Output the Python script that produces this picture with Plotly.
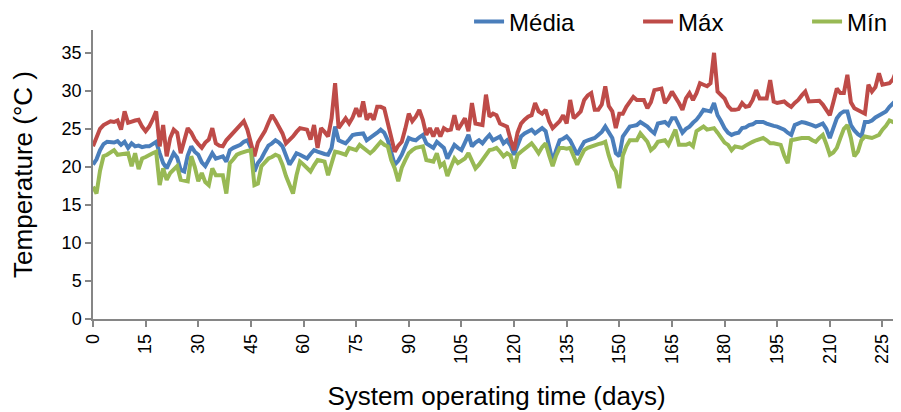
import plotly.graph_objects as go

media = [
    20.3, 21.0, 22.2, 23.0, 23.3, 23.3, 23.2, 23.4, 22.9, 23.3,
    22.5, 23.1, 22.7, 22.8, 22.6, 22.7, 22.7, 23.0, 23.3, 21.8,
    20.5, 19.8, 20.9, 21.8, 21.2, 19.6, 19.4, 21.5, 22.7, 22.0,
    21.6, 20.6, 20.1, 20.9, 21.8, 21.1, 21.2, 21.4, 20.7, 22.2,
    22.5, 22.7, 22.9, 23.3, 23.5, 22.5, 19.4, 20.5, 21.1, 22.0,
    22.8, 23.1, 23.5, 23.2, 22.7, 21.5, 20.3, 21.0, 21.8, 21.6,
    21.3, 21.1, 21.7, 22.2, 22.0, 21.8, 21.7, 21.6, 22.5, 25.3,
    23.5, 23.3, 23.1, 23.6, 24.2, 24.3, 24.4, 24.4, 23.5, 23.8,
    24.2, 24.5, 24.9, 24.5, 23.5, 22.0, 20.3, 20.8, 21.6, 22.7,
    23.8, 23.6, 23.5, 23.9, 24.2, 23.1, 22.8, 22.5, 23.3, 22.9,
    22.5, 21.1, 22.0, 22.9, 22.5, 22.2, 23.2, 24.2, 22.7, 23.2,
    23.5, 23.1, 23.7, 24.2, 23.5, 23.8, 24.0, 23.1, 23.5, 22.8,
    21.6, 22.8, 24.0, 24.4, 24.7, 24.9, 24.4, 24.8, 25.1, 24.7,
    22.5, 20.7, 22.2, 23.5, 23.7, 24.0, 23.5, 22.5, 21.6, 22.5,
    23.3, 23.5, 23.7, 23.8, 24.2, 24.6, 25.3, 24.5, 23.8, 21.8,
    21.4, 24.0, 24.7, 25.3, 25.4, 25.5, 25.9, 25.6, 25.3, 24.8,
    24.4, 25.7, 25.8, 25.9, 25.5, 26.4, 26.4, 25.3, 24.5, 25.0,
    25.3, 25.8, 26.2, 26.8, 27.5, 27.4, 27.3, 28.4, 26.8, 26.0,
    25.1, 24.5, 24.2, 24.4, 24.5, 25.1, 25.2, 25.5, 25.6, 25.9,
    25.9, 25.9, 25.7, 25.5, 25.4, 25.3, 25.1, 24.9, 24.5, 24.2,
    25.5, 25.7, 25.9, 25.8, 25.7, 25.5, 25.3, 25.5, 25.7, 25.0,
    23.8, 25.1, 26.4, 27.0, 27.3, 27.3, 25.5, 24.8, 24.3, 24.0,
    25.9, 25.9, 26.1, 26.5, 26.8, 27.0, 27.3, 27.9, 28.4, 28.8,
    26.6,
]

maximo = [
    22.7, 23.8, 25.0, 25.5, 25.8, 26.0, 25.9, 26.1, 24.9, 27.3,
    25.8, 26.0, 26.1, 26.2, 25.3, 24.7, 25.3, 26.2, 27.3, 22.7,
    25.5, 21.4, 23.8, 24.9, 24.5, 21.8, 23.5, 25.1, 24.5, 23.6,
    23.0, 22.5, 23.2, 23.6, 25.1, 23.1, 22.8, 22.7, 23.5, 24.0,
    24.6, 25.1, 25.5, 26.0, 24.9, 23.0, 21.4, 23.2, 24.0, 24.7,
    25.8, 26.8, 26.1, 25.2, 24.4, 23.1, 23.5, 24.0, 24.6, 25.1,
    25.0, 24.9, 23.6, 25.5, 22.5, 25.1, 24.6, 24.0, 26.4, 31.0,
    25.1, 25.8, 26.4, 25.7, 26.5, 27.7, 26.6, 28.6, 26.2, 27.0,
    26.2, 27.9, 27.9, 27.7, 25.7, 23.8, 22.0, 22.8, 23.3, 25.0,
    27.0, 26.0, 26.6, 27.5, 26.2, 24.2, 25.1, 24.0, 25.1, 24.0,
    25.1, 24.8, 24.9, 26.8, 24.9, 25.6, 26.4, 24.7, 28.4, 25.7,
    25.6, 25.5, 29.5, 26.6, 27.0, 26.8, 25.7, 25.5, 25.3, 23.6,
    22.2, 24.5, 25.7, 26.2, 26.6, 26.8, 28.4, 27.3, 27.0, 27.5,
    26.0, 25.1, 25.5, 26.0, 26.8, 25.7, 28.8, 26.4, 26.8, 27.3,
    28.8, 29.4, 29.7, 27.5, 27.5, 28.2, 30.6, 28.0, 27.3, 25.1,
    27.0, 27.0, 27.9, 28.6, 29.2, 28.8, 28.8, 28.8, 27.7, 28.5,
    30.1, 30.2, 30.3, 28.4, 29.0, 29.9, 29.2, 28.4, 27.5, 29.0,
    29.7, 28.8, 29.7, 31.0, 30.8, 30.6, 31.0, 35.0, 29.9, 29.5,
    29.0, 28.0, 27.5, 27.5, 27.6, 28.4, 27.9, 28.0, 28.8, 30.1,
    29.0, 29.0, 29.0, 31.4, 28.6, 28.4, 28.5, 28.6, 28.2, 27.9,
    28.4, 28.8, 29.4, 29.9, 28.6, 28.6, 28.6, 28.7, 28.2, 27.5,
    26.8, 28.5, 30.3, 29.7, 29.7, 32.1, 28.5, 27.7, 27.5, 27.3,
    27.0, 30.8, 29.9, 30.5, 32.3, 30.8, 30.9, 31.0, 31.5, 32.7,
    30.3,
]

minimo = [
    17.4, 16.5, 19.5, 21.4, 21.6, 21.9, 22.2, 21.6, 21.7, 21.8,
    21.8, 20.1, 21.8, 19.7, 21.1, 21.3, 21.6, 21.8, 22.0, 17.6,
    19.8, 18.3, 19.2, 19.6, 20.1, 18.3, 18.2, 18.1, 21.4, 20.0,
    18.1, 19.2, 18.0, 17.6, 19.8, 18.9, 18.9, 18.9, 16.5, 20.5,
    21.0, 21.6, 21.8, 22.0, 22.1, 22.2, 17.6, 17.8, 20.1, 20.6,
    21.1, 21.3, 21.6, 21.4, 20.3, 18.8, 17.5, 16.5, 18.9, 20.7,
    20.3, 19.8, 19.4, 20.2, 20.9, 20.8, 20.7, 18.9, 20.5, 22.0,
    21.9, 21.8, 21.6, 22.5, 22.3, 22.2, 22.9, 22.5, 22.2, 21.8,
    22.2, 22.7, 23.3, 22.9, 22.7, 20.9, 19.8, 18.1, 19.9, 20.9,
    21.8, 22.2, 22.5, 22.6, 22.7, 20.9, 20.8, 20.7, 21.8, 20.1,
    20.5, 18.8, 20.0, 21.1, 20.5, 20.8, 21.1, 21.8, 20.9, 19.8,
    20.3, 20.9, 21.5, 22.2, 22.3, 22.5, 22.0, 21.4, 21.8, 21.5,
    19.8, 21.6, 22.0, 22.4, 22.7, 23.1, 22.5, 21.8, 22.6, 23.1,
    21.5, 20.1, 21.5, 22.5, 22.5, 22.4, 22.5, 21.5, 20.3, 21.3,
    22.2, 22.5, 22.7, 22.9, 23.0, 23.1, 23.3, 21.5, 20.1, 19.4,
    17.2, 21.5, 22.7, 23.5, 23.5, 23.5, 24.4, 23.9, 23.3, 22.2,
    22.6, 23.3, 23.4, 23.5, 22.9, 23.9, 24.9, 22.9, 22.9, 22.9,
    23.1, 22.7, 24.7, 25.0, 25.3, 24.9, 25.0, 25.1, 24.5, 23.8,
    23.2, 22.9, 22.2, 22.7, 22.6, 22.5, 22.8, 23.1, 23.3, 23.5,
    23.7, 23.8, 23.5, 23.1, 23.1, 23.0, 22.9, 21.5, 20.5, 23.5,
    23.6, 23.8, 23.8, 23.8, 23.8, 23.5, 23.3, 23.8, 24.2, 23.0,
    21.6, 21.9, 22.5, 23.8, 25.0, 25.5, 23.8, 21.4, 22.0, 23.5,
    24.0, 23.9, 23.8, 24.0, 24.2, 24.9, 25.4, 26.1, 25.9, 25.7,
    22.9,
]

days_media = list(range(len(media)))
days_max = list(range(len(maximo)))
days_min = list(range(len(minimo)))

x_ticks = list(range(0, 226, 15))
y_ticks = list(range(0, 36, 5))

series_names = ["Média", "Máx", "Mín"]
colors = ["#4A7EBB", "#BE4B48", "#98B954"]

fig = go.Figure()
for name, xs, ys, c in zip(series_names,
                           [days_media, days_max, days_min],
                           [media, maximo, minimo], colors):
    fig.add_trace(go.Scatter(x=xs, y=ys, mode="lines", name=name,
                             line=dict(color=c, width=4)))

axis_color = "#868686"
font_family = "Liberation Sans, Arial, sans-serif"

fig.update_layout(
    width=893, height=404,
    margin=dict(l=85, r=1, t=22, b=93, autoexpand=False),
    paper_bgcolor="white", plot_bgcolor="white",
    font=dict(family=font_family, color="black"),
    legend=dict(orientation="h", x=0.466, y=1.028, xanchor="left", yanchor="middle",
                font=dict(size=24, family=font_family), entrywidth=124,
                entrywidthmode="pixels", bgcolor="rgba(0,0,0,0)"),
)
fig.update_xaxes(
    range=[0, 230], tickmode="array", tickvals=x_ticks, ticktext=[str(v) for v in x_ticks],
    tickangle=-90, ticks="outside", ticklen=6, tickwidth=1.5, tickcolor=axis_color,
    showline=True, linecolor=axis_color, linewidth=1.5, showgrid=False, zeroline=False,
    tickfont=dict(size=18, family=font_family, color="black"),
    title=dict(text="System operating time (days)", standoff=24,
               font=dict(size=26, family=font_family, color="black")),
)
fig.update_yaxes(
    range=[0, 38], tickmode="array", tickvals=y_ticks, ticktext=[str(v) for v in y_ticks],
    ticks="outside", ticklen=6, tickwidth=1.5, tickcolor=axis_color,
    showline=True, linecolor=axis_color, linewidth=1.5, showgrid=False, zeroline=False,
    tickfont=dict(size=18, family=font_family, color="black"),
    title=dict(text="Temperature (°C )", standoff=22,
               font=dict(size=26, family=font_family, color="black")),
)

fig.write_html("out.html")
